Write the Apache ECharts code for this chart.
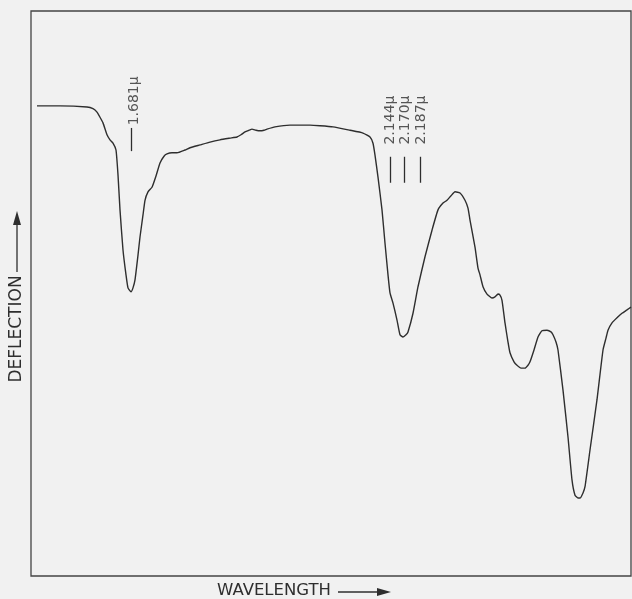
<!DOCTYPE html>
<html>
<head>
<meta charset="utf-8">
<script src="https://cdn.jsdelivr.net/npm/echarts@6/dist/echarts.min.js"></script>
<style>
  html, body { margin: 0; padding: 0; background: #f1f1f1; }
  #chart { width: 632px; height: 599px; }
</style>
</head>
<body>
<div id="chart"></div>
<script>
// Recorder trace: [drum position, deflection (0-100)]
const trace = [
  [6, 83.2], [29, 83.2], [56, 83.0], [62, 82.7], [66, 82.1], [69, 81.2], [72, 80.2],
  [76, 78.1], [79, 77.2], [82, 76.6], [85, 75.4], [87, 71.0], [89, 64.8], [92, 57.7],
  [95, 53.3], [97, 51.0], [100, 50.3], [102, 51.0], [104, 52.4], [107, 56.8], [109, 60.0],
  [112, 63.9], [114, 66.5], [117, 68.0], [121, 68.8], [125, 70.8], [129, 73.1], [133, 74.3],
  [136, 74.7], [141, 74.9], [146, 74.9], [154, 75.4], [159, 75.8], [169, 76.3], [179, 76.8],
  [189, 77.2], [199, 77.5], [206, 77.7], [210, 78.1], [214, 78.6], [218, 78.9], [221, 79.1],
  [225, 78.9], [229, 78.8], [233, 78.9], [236, 79.1], [244, 79.5], [259, 79.8], [279, 79.8],
  [289, 79.7], [302, 79.5], [319, 78.9], [332, 78.4], [339, 77.7], [342, 76.6], [344, 74.5],
  [347, 70.6], [351, 64.8], [354, 58.9], [357, 53.3], [359, 50.1], [362, 48.3], [366, 45.3],
  [369, 42.7], [372, 42.3], [375, 42.7], [377, 43.2], [382, 46.5], [387, 51.2], [394, 56.5],
  [401, 61.2], [407, 64.8], [412, 66.0], [416, 66.5], [420, 67.3], [424, 68.0], [429, 67.8],
  [434, 66.5], [437, 65.1], [439, 63.0], [444, 58.2], [447, 54.5], [449, 53.3], [452, 51.2],
  [456, 49.9], [461, 49.2], [464, 49.4], [467, 49.9], [469, 49.7], [471, 48.8], [474, 44.8],
  [477, 41.4], [479, 39.5], [483, 37.9], [486, 37.3], [490, 36.8], [494, 36.8], [497, 37.3],
  [499, 37.9], [503, 40.0], [507, 42.3], [511, 43.4], [516, 43.5], [520, 43.2], [522, 42.7],
  [525, 41.4], [527, 40.0], [532, 32.9], [537, 24.6], [541, 17.0], [544, 14.3], [547, 13.8],
  [549, 13.8], [552, 14.7], [554, 15.8], [559, 22.3], [566, 31.2], [572, 40.0], [575, 42.1],
  [577, 43.5], [581, 44.8], [586, 45.7], [591, 46.5], [596, 47.1], [600, 47.6]
];

// Band identifications
const peakNames = ['1.681\u03bc', '2.144\u03bc', '2.170\u03bc', '2.187\u03bc'];
const peakTickPos = [100, 359, 373, 389];
const peakTickTop = [79.3, 74.2, 74.2, 74.2];
const peakTickBottom = [75.2, 69.6, 69.6, 69.6];
const peakLabelPos = [103, 359, 374, 390];
const peakLabelLevel = [84.1, 80.7, 80.7, 80.7];

const xTitle = 'WAVELENGTH';
const yTitle = 'DEFLECTION';

const ink = '#2e2e2e';
const fontFamily = 'DejaVu Sans, sans-serif';

const tickLines = peakNames.map((n, i) => [
  { coord: [peakTickPos[i], peakTickTop[i]] },
  { coord: [peakTickPos[i], peakTickBottom[i]] }
]);
const labelPoints = peakNames.map((n, i) => [peakLabelPos[i], peakLabelLevel[i], n]);

const chart = echarts.init(document.getElementById('chart'), null, { renderer: 'canvas' });

chart.setOption({
  backgroundColor: '#f1f1f1',
  animation: false,
  grid: {
    left: 31, right: 1, top: 11, bottom: 23,
    show: true, borderColor: '#444444', borderWidth: 1.3, backgroundColor: 'transparent'
  },
  xAxis: { type: 'value', min: 0, max: 600, show: false },
  yAxis: { type: 'value', min: 0, max: 100, show: false },
  series: [
    {
      name: 'trace',
      type: 'line',
      data: trace,
      showSymbol: false,
      smooth: 0.15,
      lineStyle: { color: ink, width: 1.4 },
      markLine: {
        silent: true,
        symbol: 'none',
        label: { show: false },
        lineStyle: { color: ink, width: 1.3, type: 'solid' },
        data: tickLines
      }
    },
    {
      name: 'bands',
      type: 'scatter',
      data: labelPoints,
      symbolSize: 0,
      silent: true,
      label: {
        show: true,
        position: 'inside',
        rotate: 90,
        formatter: p => p.data[2],
        color: ink,
        fontFamily: fontFamily,
        fontSize: 14
      }
    }
  ],
  graphic: [
    {
      type: 'text', x: 274, y: 591,
      style: {
        text: xTitle, fill: ink, font: '16.5px ' + fontFamily,
        textAlign: 'center', textVerticalAlign: 'middle'
      }
    },
    {
      type: 'line', shape: { x1: 338, y1: 592, x2: 380, y2: 592 },
      style: { stroke: ink, lineWidth: 1.3 }
    },
    {
      type: 'polygon', shape: { points: [[377, 588], [391, 592], [377, 596]] },
      style: { fill: ink }
    },
    {
      type: 'text', x: 17, y: 329, rotation: Math.PI / 2,
      style: {
        text: yTitle, fill: ink, font: '17px ' + fontFamily,
        textAlign: 'center', textVerticalAlign: 'middle'
      }
    },
    {
      type: 'line', shape: { x1: 17, y1: 272, x2: 17, y2: 222 },
      style: { stroke: ink, lineWidth: 1.3 }
    },
    {
      type: 'polygon', shape: { points: [[13, 225], [17, 211], [21, 225]] },
      style: { fill: ink }
    }
  ]
});
</script>
</body>
</html>
